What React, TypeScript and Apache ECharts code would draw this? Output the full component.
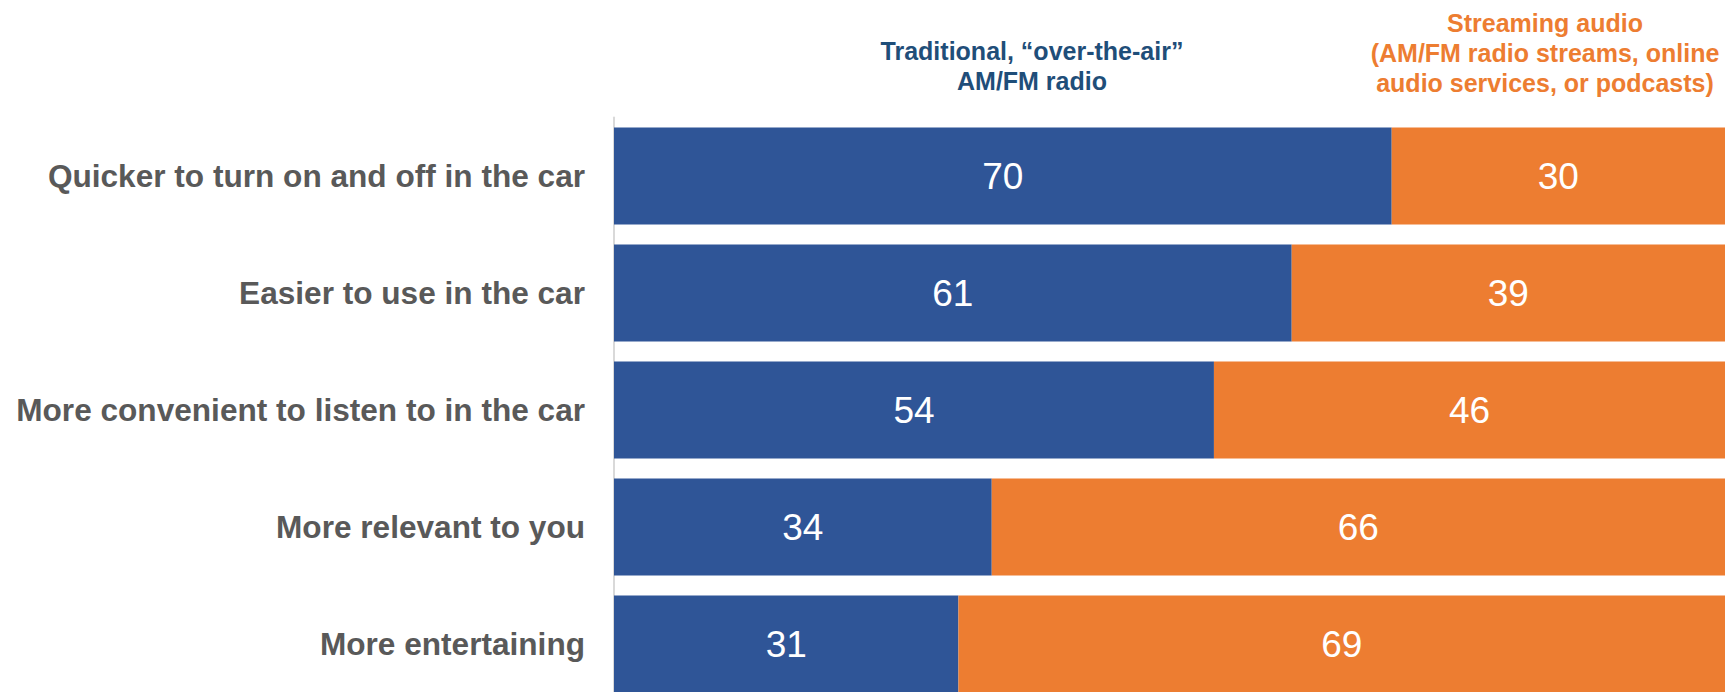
import React, { useEffect, useRef } from "react";
import * as echarts from "echarts";

const categories = [
  "Quicker to turn on and off in the car",
  "Easier to use in the car",
  "More convenient to listen to in the car",
  "More relevant to you",
  "More entertaining",
];
const traditionalValues = [70, 61, 54, 34, 31];
const streamingValues = [30, 39, 46, 66, 69];
const traditionalName = "Traditional, \u201cover-the-air\u201d\nAM/FM radio";
const streamingName = "Streaming audio\n(AM/FM radio streams, online\naudio services, or podcasts)";

const BLUE = "#2F5597";
const ORANGE = "#ED7D31";
const HEADER_BLUE = "#1F4E79";
const FONT = "'Liberation Sans', Arial, sans-serif";

export default function App() {
  const ref = useRef<HTMLDivElement>(null);
  useEffect(() => {
    if (!ref.current) return;
    const chart = echarts.init(ref.current, undefined, { renderer: "svg" });
    const labelStyle = {
      show: true,
      position: "inside" as const,
      color: "#FFFFFF",
      fontSize: 37,
      fontFamily: FONT,
      fontWeight: "normal" as const,
    };
    chart.setOption({
      animation: false,
      backgroundColor: "#FFFFFF",
      grid: {
        left: 614,
        right: 11,
        top: 117.5,
        height: 585,
        containLabel: false,
        outerBoundsMode: "none",
      },
      xAxis: {
        type: "value",
        min: 0,
        max: 100,
        show: false,
      },
      yAxis: {
        type: "category",
        inverse: true,
        data: categories,
        axisLine: { show: true, lineStyle: { color: "#D9D9D9", width: 2 } },
        axisTick: { show: false },
        axisLabel: {
          color: "#595959",
          fontSize: 31.6,
          fontWeight: "bold",
          fontFamily: FONT,
          margin: 29,
        },
      },
      graphic: [
        {
          type: "text",
          x: 1032,
          y: 35.5,
          style: {
            text: traditionalName,
            fill: HEADER_BLUE,
            font: `bold 25px ${FONT}`,
            textAlign: "center",
            textVerticalAlign: "top",
            lineHeight: 30,
          },
        },
        {
          type: "text",
          x: 1545,
          y: 7.5,
          style: {
            text: streamingName,
            fill: ORANGE,
            font: `bold 25px ${FONT}`,
            textAlign: "center",
            textVerticalAlign: "top",
            lineHeight: 30,
          },
        },
      ],
      series: [
        {
          name: traditionalName,
          type: "bar",
          stack: "total",
          data: traditionalValues,
          barCategoryGap: "17%",
          itemStyle: { color: BLUE },
          label: labelStyle,
        },
        {
          name: streamingName,
          type: "bar",
          stack: "total",
          data: streamingValues,
          barCategoryGap: "17%",
          itemStyle: { color: ORANGE },
          label: labelStyle,
        },
      ],
    });
    return () => chart.dispose();
  }, []);
  return (
    <div
      ref={ref}
      style={{ position: "fixed", left: 0, top: 0, width: 1736, height: 692 }}
    />
  );
}
